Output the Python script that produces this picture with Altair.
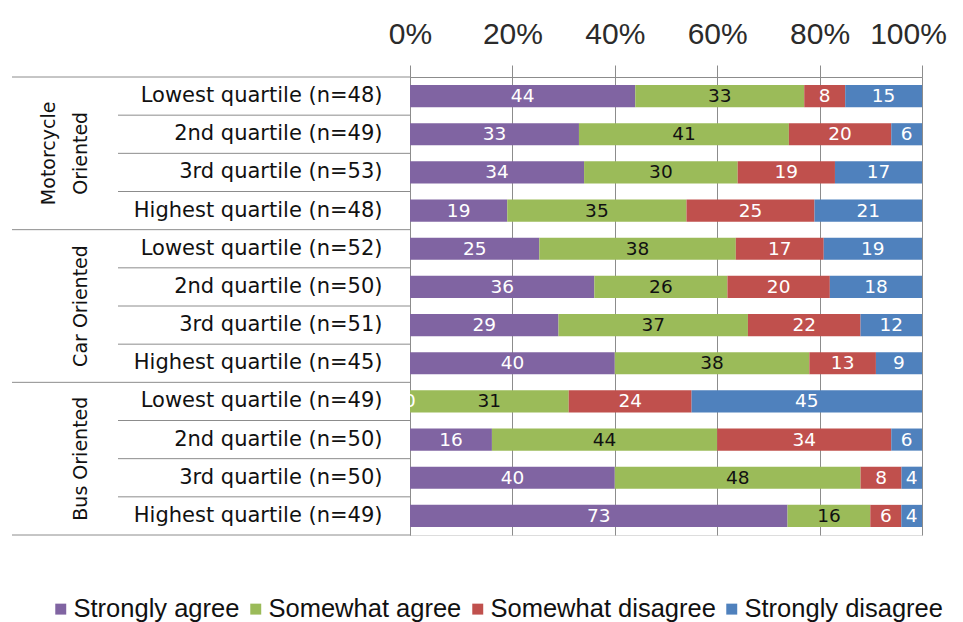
import altair as alt
import pandas as pd

# ---------------- data ----------------
row_labels = [
    "Lowest quartile  (n=48)", "2nd quartile (n=49)", "3rd quartile (n=53)", "Highest quartile (n=48)",
    "Lowest quartile  (n=52)", "2nd quartile (n=50)", "3rd quartile (n=51)", "Highest quartile (n=45)",
    "Lowest quartile  (n=49)", "2nd quartile (n=50)", "3rd quartile (n=50)", "Highest quartile (n=49)",
]
group_line1 = ["Motorcycle", "", ""]
group_line2 = ["Oriented", "Car Oriented", "Bus Oriented"]
categories = ["Strongly agree", "Somewhat agree", "Somewhat disagree", "Strongly disagree"]
colors = ["#8064A2", "#9BBB59", "#C0504D", "#4F81BD"]

strongly_agree = [44, 33, 34, 19, 25, 36, 29, 40, 0, 16, 40, 73]
somewhat_agree = [33, 41, 30, 35, 38, 26, 37, 38, 31, 44, 48, 16]
somewhat_disagree = [8, 20, 19, 25, 17, 20, 22, 13, 24, 34, 8, 6]
strongly_disagree = [15, 6, 17, 21, 19, 18, 12, 9, 45, 6, 4, 4]

series = [strongly_agree, somewhat_agree, somewhat_disagree, strongly_disagree]
keys = [f"{i:02d}|{lab}" for i, lab in enumerate(row_labels)]

rows = []
for ci, (cat, vals) in enumerate(zip(categories, series)):
    for k, v in zip(keys, vals):
        rows.append({"key": k, "cat": cat, "ci": ci, "value": v})
df = pd.DataFrame(rows)

grid_col = "#8c8c8c"
label_font = "DejaVu Sans"
y_scale = alt.Scale(domain=keys, paddingInner=0, paddingOuter=0)
y_axis = alt.Axis(
    title=None, labelExpr="split(datum.label, '|')[1]", ticks=False,
    domainColor=grid_col, labelFont=label_font, labelFontSize=21,
    labelColor="#111111", labelPadding=28, labelLimit=400, grid=False,
)
x_scale = alt.Scale(domain=[0, 1], nice=False)
x_axis = alt.Axis(
    orient="top", title=None, values=[0, 0.2, 0.4, 0.6, 0.8, 1.0], format="%",
    labelFont="Liberation Sans", labelFontSize=30, labelColor="#2b2b2b",
    labelPadding=16, tickSize=12, tickColor=grid_col, domainColor=grid_col,
    gridColor=grid_col, grid=True, labelOverlap=False, labelBound=False, labelFlush=False,
    labelOffset=alt.condition("datum.value >= 1", alt.value(-14), alt.value(0)),
)

def Y(band=0.5):
    return alt.Y("key:N", scale=y_scale, axis=y_axis, bandPosition=band)

base = alt.Chart(df).transform_stack(
    stack="value", groupby=["key"], as_=["v0", "v1"], offset="normalize",
    sort=[alt.SortField("ci", order="ascending")],
).transform_calculate(mid="(datum.v0 + datum.v1) / 2")

bars = base.mark_bar(height={"band": 0.58}).encode(
    y=alt.Y("key:N", scale=y_scale, axis=y_axis),
    x=alt.X("v0:Q", scale=x_scale, axis=x_axis),
    x2="v1:Q",
    color=alt.Color(
        "cat:N", scale=alt.Scale(domain=categories, range=colors),
        legend=alt.Legend(
            title=None, orient="none", direction="horizontal", legendX=-362, legendY=519,
            symbolType="square", symbolSize=120, symbolStrokeWidth=0, labelFont="Liberation Sans",
            labelFontSize=25.5, labelColor="#111111", columnPadding=3, labelOffset=0, padding=0,
            labelLimit=400,
        ),
    ),
    order=alt.Order("ci:Q"),
)

texts = base.mark_text(font=label_font, fontSize=18.5, clip=True, baseline="middle").encode(
    y=alt.Y("key:N", scale=y_scale, axis=y_axis),
    x=alt.X("mid:Q", scale=x_scale, axis=x_axis),
    text=alt.Text("value:Q"),
    color=alt.condition("datum.cat === 'Somewhat agree'", alt.value("#111111"), alt.value("#ffffff")),
)

# separators in the label area
inner_keys = [k for i, k in enumerate(keys) if i % 4 != 0]
group_keys = [k for i, k in enumerate(keys) if i % 4 == 0]
row_sep = alt.Chart(pd.DataFrame({"key": inner_keys})).mark_rule(color=grid_col, strokeWidth=1).encode(
    y=Y(0), x=alt.value(-292), x2=alt.value(0)
)
grp_sep = alt.Chart(pd.DataFrame({"key": group_keys})).mark_rule(color=grid_col, strokeWidth=1).encode(
    y=Y(0), x=alt.value(-398), x2=alt.value(0)
)
bottom_sep = alt.Chart(pd.DataFrame({"key": [keys[-1]]})).mark_rule(color=grid_col, strokeWidth=1).encode(
    y=Y(1), x=alt.value(-398), x2=alt.value(0)
)

mid_keys = [keys[1], keys[5], keys[9]]
g2 = alt.Chart(pd.DataFrame({"key": mid_keys, "t": group_line2})).mark_text(
    font=label_font, fontSize=19, angle=270, align="center", baseline="middle", color="#111111"
).encode(y=Y(1), x=alt.value(-329), text="t:N")
g1 = alt.Chart(pd.DataFrame({"key": mid_keys, "t": group_line1})).mark_text(
    font=label_font, fontSize=19, angle=270, align="center", baseline="middle", color="#111111"
).encode(y=Y(1), x=alt.value(-361), text="t:N")

chart = alt.layer(bars, texts, row_sep, grp_sep, bottom_sep, g1, g2).properties(
    width=512, height=458,
    autosize=alt.AutoSizeParams(type="none"),
    padding={"left": 410, "top": 77, "right": 41, "bottom": 87},
).configure_view(stroke=None).configure(background="white")

chart.save("out.html", embed_options={"renderer": "svg", "actions": False})
